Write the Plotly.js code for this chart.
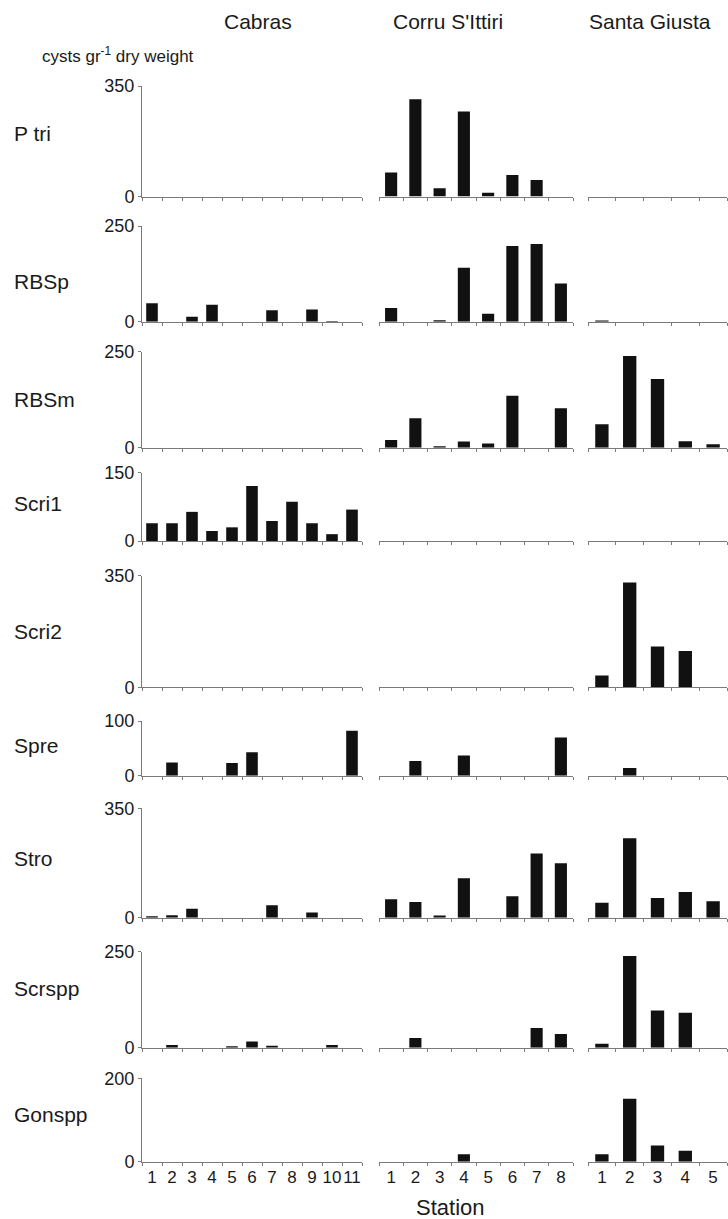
<!DOCTYPE html>
<html>
<head>
<meta charset="utf-8">
<script src="https://cdn.plot.ly/plotly-3.0.1.min.js"></script>
<style>html,body{margin:0;padding:0;background:#fff;}#chart{width:728px;height:1219px;}</style>
</head>
<body>
<div id="chart"></div>
<script>
// Lagoons (columns) and their stations
const lagoons = ["Cabras", "Corru S'Ittiri", "Santa Giusta"];
const cabrasStations = [1, 2, 3, 4, 5, 6, 7, 8, 9, 10, 11];
const corruStations = [1, 2, 3, 4, 5, 6, 7, 8];
const giustaStations = [1, 2, 3, 4, 5];

// Taxa (rows) and their y-axis maxima
const taxa = ["P tri", "RBSp", "RBSm", "Scri1", "Scri2", "Spre", "Stro", "Scrspp", "Gonspp"];
const yMax = [350, 250, 250, 150, 350, 100, 350, 250, 200];

// cysts gr-1 dry weight, per taxon: Cabras / Corru S'Ittiri / Santa Giusta
const ptriCabras = [0, 0, 0, 0, 0, 0, 0, 0, 0, 0, 0];
const ptriCorru = [76, 308, 26, 269, 12, 68, 52, 0];
const ptriGiusta = [0, 0, 0, 0, 0];

const rbspCabras = [48, 0, 13, 44, 0, 0, 30, 0, 32, 2, 0];
const rbspCorru = [36, 0, 4, 141, 21, 198, 203, 100];
const rbspGiusta = [3, 0, 0, 0, 0];

const rbsmCabras = [0, 0, 0, 0, 0, 0, 0, 0, 0, 0, 0];
const rbsmCorru = [20, 77, 4, 16, 11, 135, 0, 103];
const rbsmGiusta = [61, 239, 179, 17, 9];

const scri1Cabras = [39, 39, 64, 22, 30, 121, 44, 86, 39, 15, 69];
const scri1Corru = [0, 0, 0, 0, 0, 0, 0, 0];
const scri1Giusta = [0, 0, 0, 0, 0];

const scri2Cabras = [0, 0, 0, 0, 0, 0, 0, 0, 0, 0, 0];
const scri2Corru = [0, 0, 0, 0, 0, 0, 0, 0];
const scri2Giusta = [37, 329, 128, 114, 0];

const spreCabras = [0, 24, 0, 0, 23, 43, 0, 0, 0, 0, 82];
const spreCorru = [0, 27, 0, 37, 0, 0, 0, 70];
const spreGiusta = [0, 14, 0, 0, 0];

const stroCabras = [5, 8, 29, 0, 0, 0, 40, 0, 17, 0, 0];
const stroCorru = [59, 50, 7, 126, 0, 69, 205, 174];
const stroGiusta = [48, 254, 63, 82, 53];

const scrsppCabras = [0, 7, 0, 0, 4, 16, 5, 0, 0, 7, 0];
const scrsppCorru = [0, 25, 0, 0, 0, 0, 51, 36];
const scrsppGiusta = [10, 239, 97, 91, 0];

const gonsppCabras = [0, 0, 0, 0, 0, 0, 0, 0, 0, 0, 0];
const gonsppCorru = [0, 0, 0, 18, 0, 0, 0, 0];
const gonsppGiusta = [18, 151, 39, 26, 0];

const rows = [
  [ptriCabras, ptriCorru, ptriGiusta],
  [rbspCabras, rbspCorru, rbspGiusta],
  [rbsmCabras, rbsmCorru, rbsmGiusta],
  [scri1Cabras, scri1Corru, scri1Giusta],
  [scri2Cabras, scri2Corru, scri2Giusta],
  [spreCabras, spreCorru, spreGiusta],
  [stroCabras, stroCorru, stroGiusta],
  [scrsppCabras, scrsppCorru, scrsppGiusta],
  [gonsppCabras, gonsppCorru, gonsppGiusta]
];
const stationLists = [cabrasStations, corruStations, giustaStations];

// ---- layout geometry (pixels) ----
const W = 728, H = 1219;
const colPx = [[142, 362], [379, 573], [588, 727]];
const rowPx = [[86, 196.5], [226, 321.7], [351.7, 447.7], [472.7, 541], [575.7, 687.3],
               [721, 775.7], [808.3, 917.7], [951.7, 1047.7], [1078.3, 1161.7]];
const barWidth = [0.58, 0.5, 0.48];
const labelPos = [0.57, 0.42, 0.5, 0.55, 0.5, 0.55, 0.54, 0.62, 0.57];

const FONT = "Liberation Sans, Arial, Helvetica, sans-serif";
const AX = "#7a7a7a";
const INK = "#1a1a1a";

const traces = [];
const layout = {
  width: W, height: H,
  margin: {l: 0, r: 0, t: 0, b: 0},
  paper_bgcolor: "#fff", plot_bgcolor: "rgba(0,0,0,0)",
  showlegend: false,
  font: {family: FONT, color: INK},
  annotations: []
};

rows.forEach((vals, r) => {
  vals.forEach((v, c) => {
    const k = r * 3 + c + 1;
    const st = stationLists[c];
    traces.push({
      type: "bar", x: st, y: v,
      xaxis: "x" + k, yaxis: "y" + k,
      width: barWidth[c],
      marker: {color: "#111", line: {width: 0}},
      hoverinfo: "x+y"
    });
    const half = st.map(s => s - 0.5).concat([st.length + 0.5]);
    const bottom = r === rows.length - 1;
    layout["xaxis" + k] = {
      domain: [colPx[c][0] / W, colPx[c][1] / W],
      anchor: "y" + k,
      range: [0.5, st.length + 0.5],
      showline: true, linecolor: AX, linewidth: 1,
      showgrid: false, zeroline: false,
      tickmode: "array", tickvals: st, ticktext: st.map(String),
      showticklabels: bottom, ticks: "", tickangle: 0,
      tickfont: {size: 17, family: FONT, color: INK},
      minor: {tickmode: "array", tickvals: half, ticks: "outside", ticklen: 3, tickcolor: AX, tickwidth: 1, showgrid: false},
      fixedrange: true
    };
    const ya = {
      domain: [1 - rowPx[r][1] / H, 1 - rowPx[r][0] / H],
      anchor: "x" + k,
      range: [0, yMax[r]],
      showgrid: false, zeroline: false,
      fixedrange: true
    };
    if (c === 0) {
      Object.assign(ya, {
        showline: true, linecolor: AX, linewidth: 1,
        tickmode: "array", tickvals: [0, yMax[r]],
        ticks: "outside", ticklen: 3, tickcolor: AX,
        tickfont: {size: 18, family: FONT, color: INK}
      });
    } else {
      ya.visible = false;
    }
    layout["yaxis" + k] = ya;
  });
  layout.annotations.push({
    text: taxa[r], xref: "paper", x: 12 / W, xanchor: "left",
    yref: "y" + (r * 3 + 1) + " domain", y: labelPos[r], yanchor: "middle",
    showarrow: false, font: {size: 21, family: FONT, color: INK}
  });
});

// Column titles
const titleX = [258, 448, 650];
lagoons.forEach((name, i) => {
  layout.annotations.push({
    text: name, xref: "paper", yref: "paper",
    x: titleX[i] / W, y: 1 - 22 / H, xanchor: "center", yanchor: "middle",
    showarrow: false, font: {size: 21, family: FONT, color: INK}
  });
});
layout.annotations.push({
  text: "cysts gr<sup>-1</sup> dry weight", xref: "paper", yref: "paper",
  x: 196 / W, y: 1 - 55 / H, xanchor: "right", yanchor: "middle",
  showarrow: false, font: {size: 17, family: FONT, color: INK}
});
layout.annotations.push({
  text: "Station", xref: "paper", yref: "paper",
  x: 450 / W, y: 1 - 1207 / H, xanchor: "center", yanchor: "middle",
  showarrow: false, font: {size: 22, family: FONT, color: INK}
});

Plotly.newPlot("chart", traces, layout, {displayModeBar: false, staticPlot: true});
</script>
</body>
</html>
